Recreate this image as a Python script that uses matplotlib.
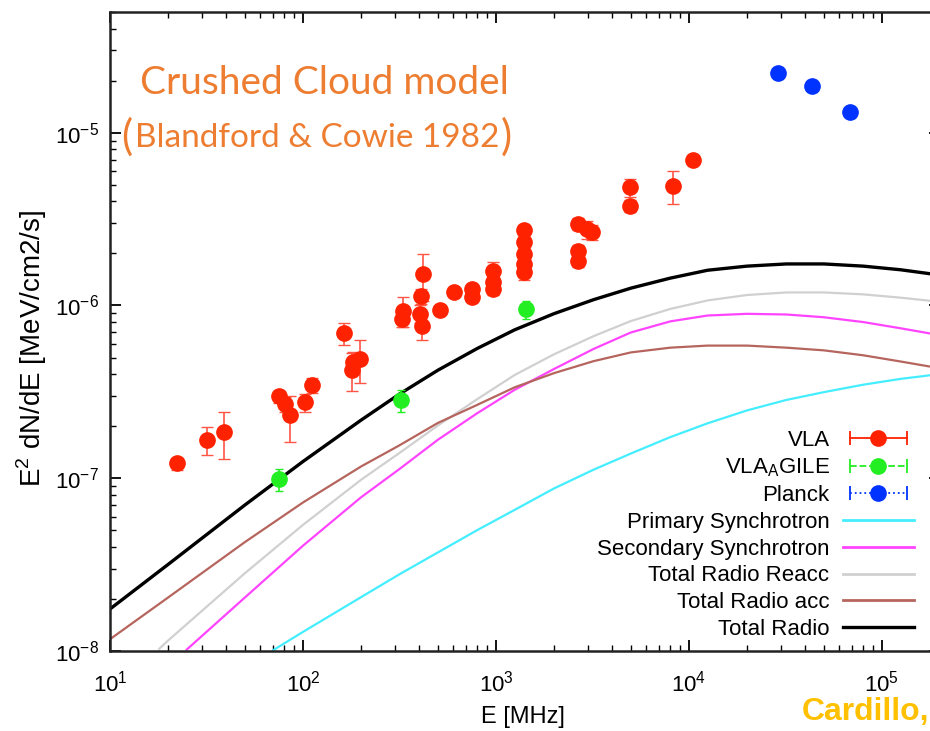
import numpy as np
import matplotlib
matplotlib.use("Agg")
import matplotlib.pyplot as plt
from matplotlib.lines import Line2D
from matplotlib.legend_handler import HandlerLine2D

plt.rcParams["font.family"] = ["Liberation Sans", "DejaVu Sans"]
plt.rcParams["mathtext.fontset"] = "custom"
plt.rcParams["mathtext.rm"] = "Liberation Sans"

# VLA data [MHz], E^2 dN/dE [MeV/cm2/s], relative error
vla_E = [22.2, 31.7, 39.1, 75.3, 80.7, 85.7, 102, 111, 164, 182, 180, 197,
         331, 327, 408, 404, 412, 417, 513, 608, 748, 748, 960, 960, 960,
         1400, 1400, 1400, 1400, 1400, 2670, 2950, 3130, 2670, 2670,
         4940, 4940, 8240, 10520]
vla_F = [1.22e-7, 1.67e-7, 1.85e-7, 2.98e-7, 2.68e-7, 2.31e-7, 2.76e-7, 3.48e-7,
         6.92e-7, 4.70e-7, 4.25e-7, 4.92e-7, 9.35e-7, 8.38e-7, 1.14e-6, 8.96e-7,
         7.65e-7, 1.52e-6, 9.44e-7, 1.19e-6, 1.25e-6, 1.12e-6, 1.59e-6, 1.37e-6,
         1.25e-6, 2.72e-6, 2.32e-6, 1.99e-6, 1.74e-6, 1.56e-6, 2.96e-6, 2.77e-6,
         2.66e-6, 2.08e-6, 1.82e-6, 4.83e-6, 3.79e-6, 4.94e-6, 6.95e-6]
vla_rel = [0.08, 0.18, 0.30, 0.08, 0.10, 0.30, 0.12, 0.10, 0.15, 0.15, 0.25, 0.28,
           0.20, 0.10, 0.10, 0.12, 0.18, 0.30, 0.05, 0.05, 0.06, 0.06, 0.12, 0.08,
           0.08, 0.08, 0.08, 0.08, 0.08, 0.10, 0.08, 0.12, 0.10, 0.08, 0.08,
           0.12, 0.08, 0.22, 0.05]

agile_E = [75.3, 322, 1429]
agile_F = [9.87e-8, 2.83e-7, 9.5e-7]
agile_rel = [0.15, 0.15, 0.12]

planck_E = [28900, 43400, 68300]
planck_F = [2.22e-5, 1.87e-5, 1.32e-5]

# model curves
model_E = [10, 20, 50, 100, 200, 316, 500, 800, 1250, 2000, 3200, 5000, 8000,
           12500, 20000, 32000, 50000, 80000, 125000, 200000]
total_F = [1.75e-8, 3.17e-8, 7.0e-8, 1.25e-7, 2.17e-7, 3.07e-7, 4.22e-7, 5.64e-7,
           7.23e-7, 8.97e-7, 1.08e-6, 1.26e-6, 1.44e-6, 1.60e-6, 1.69e-6,
           1.74e-6, 1.74e-6, 1.69e-6, 1.61e-6, 1.50e-6]
acc_F = [1.17e-8, 2.04e-8, 4.27e-8, 7.24e-8, 1.17e-7, 1.55e-7, 2.09e-7, 2.66e-7,
         3.36e-7, 4.06e-7, 4.76e-7, 5.35e-7, 5.70e-7, 5.86e-7, 5.86e-7, 5.70e-7,
         5.50e-7, 5.15e-7, 4.74e-7, 4.33e-7]
reacc_E = [18] + model_E[1:]
reacc_F = [1.03e-8, 1.15e-8, 2.82e-8, 5.37e-8, 9.8e-8, 1.40e-7, 2.02e-7, 2.87e-7,
           3.96e-7, 5.22e-7, 6.64e-7, 8.13e-7, 9.55e-7, 1.07e-6, 1.15e-6,
           1.19e-6, 1.19e-6, 1.16e-6, 1.11e-6, 1.05e-6]
sec_E = [25] + model_E[2:]
sec_F = [1.02e-8, 2.04e-8, 4.07e-8, 7.76e-8, 1.13e-7, 1.67e-7, 2.38e-7, 3.25e-7,
         4.29e-7, 5.60e-7, 6.98e-7, 8.09e-7, 8.75e-7, 8.95e-7, 8.87e-7, 8.55e-7,
         8.02e-7, 7.38e-7, 6.73e-7]
prim_E = [70] + model_E[3:]
prim_F = [1.01e-8, 1.29e-8, 2.05e-8, 2.78e-8, 3.72e-8, 5.01e-8, 6.56e-8, 8.73e-8,
          1.12e-7, 1.39e-7, 1.73e-7, 2.08e-7, 2.47e-7, 2.84e-7, 3.15e-7, 3.48e-7,
          3.76e-7, 4.01e-7]

c_red = "#ff2200"
c_green = "#22ee22"
c_blue = "#0033ff"
c_cyan = "#44eeff"
c_mag = "#ff44ff"
c_grey = "#d0d0d0"
c_brown = "#b5655d"

fig = plt.figure(figsize=(9.3, 7.31), dpi=100)
ax = fig.add_axes([110 / 930, 80 / 731, 830 / 930, 639 / 731])

ax.plot(prim_E, prim_F, color=c_cyan, lw=1.6)
ax.plot(sec_E, sec_F, color=c_mag, lw=1.6)
ax.plot(reacc_E, reacc_F, color=c_grey, lw=1.6)
ax.plot(model_E, acc_F, color=c_brown, lw=1.6)
ax.plot(model_E, total_F, color="black", lw=2.4)

vla_err = np.array(vla_F) * np.array(vla_rel)
ax.errorbar(vla_E, vla_F, yerr=vla_err, fmt="o", color=c_red, ms=11,
            elinewidth=1.2, capsize=4, ecolor="#ff5544", zorder=5)
agile_err = np.array(agile_F) * np.array(agile_rel)
ax.errorbar(agile_E, agile_F, yerr=agile_err, fmt="o", color=c_green, ms=11,
            elinewidth=1.2, capsize=3, zorder=5)
ax.plot(planck_E, planck_F, "o", color=c_blue, ms=11, zorder=5)

ax.set_xscale("log")
ax.set_yscale("log")
ax.set_xlim(10, 2e5)
ax.set_ylim(1e-8, 5e-5)

ax.tick_params(which="both", direction="in", top=True, right=True, labelsize=16)
ax.tick_params(axis="x", pad=14)
ax.tick_params(axis="y", pad=8)
ax.tick_params(which="major", length=8, width=1.3)
ax.tick_params(which="minor", length=4, width=1.0)
for s in ax.spines.values():
    s.set_linewidth(1.8)
    s.set_color("#222222")

ax.set_xlabel("E [MHz]", fontsize=17)
ax.xaxis.set_label_coords((523 - 110) / 830, -(717 - 651) / 639)
ax.xaxis.label.set_va("center")
ax.set_ylabel(r"E$^2$ dN/dE [MeV/cm2/s]", fontsize=20)
ax.yaxis.set_label_coords((32 - 110) / 830, (651 - 348) / 639)
ax.yaxis.label.set_va("center")

# legend in gnuplot style
def key(color, ls):
    bar = Line2D([], [], color=color, ls=ls, lw=1.3, marker="|", ms=10, mew=1.3)
    dot = Line2D([], [], color=color, ls="none", marker="o", ms=11)
    return bar, dot

h_vla = key(c_red, "-")
h_ag = key(c_green, "--")
h_pl = key(c_blue, ":")
hmap = {}
for b, d in (h_vla, h_ag, h_pl):
    hmap[b] = HandlerLine2D(numpoints=2)
    hmap[d] = HandlerLine2D(numpoints=1)

handles = [h_vla, h_ag, h_pl,
           Line2D([], [], color=c_cyan, lw=2),
           Line2D([], [], color=c_mag, lw=2),
           Line2D([], [], color=c_grey, lw=2),
           Line2D([], [], color=c_brown, lw=2),
           Line2D([], [], color="black", lw=2.4)]
labels = ["VLA", r"VLA$_\mathregular{A}$GILE", "Planck", "Primary Synchrotron",
          "Secondary Synchrotron", "Total Radio Reacc", "Total Radio acc",
          "Total Radio"]
leg = ax.legend(handles, labels, handler_map=hmap, loc="lower right",
                bbox_to_anchor=(914 / 930, (731 - 640) / 731),
                bbox_transform=fig.transFigure, frameon=False, markerfirst=False,
                fontsize=16, handlelength=3.2, handletextpad=0.6,
                labelspacing=0.26, borderpad=0, borderaxespad=0)
for col in leg._legend_handle_box.get_children():
    col.align = "right"

# annotations
orange = "#ed7d31"
fig.text(140 / 930, 1 - 83 / 731, "Crushed Cloud model", color=orange,
         fontsize=28, family="Lato", va="center", ha="left")
fig.text(121 / 930, 1 - 137 / 731, "(", color=orange, fontsize=30,
         family="Lato", va="center", ha="left")
fig.text(135 / 930, 1 - 138 / 731, "Blandford & Cowie 1982", color=orange,
         fontsize=24, family="Lato", va="center", ha="left")
fig.text(501 / 930, 1 - 137 / 731, ")", color=orange, fontsize=30,
         family="Lato", va="center", ha="left")
fig.text(802 / 930, 1 - 712 / 731, "Cardillo,", color="#ffc000", fontsize=23,
         fontweight="bold", va="center", ha="left")

fig.savefig("out.png", dpi=100)
